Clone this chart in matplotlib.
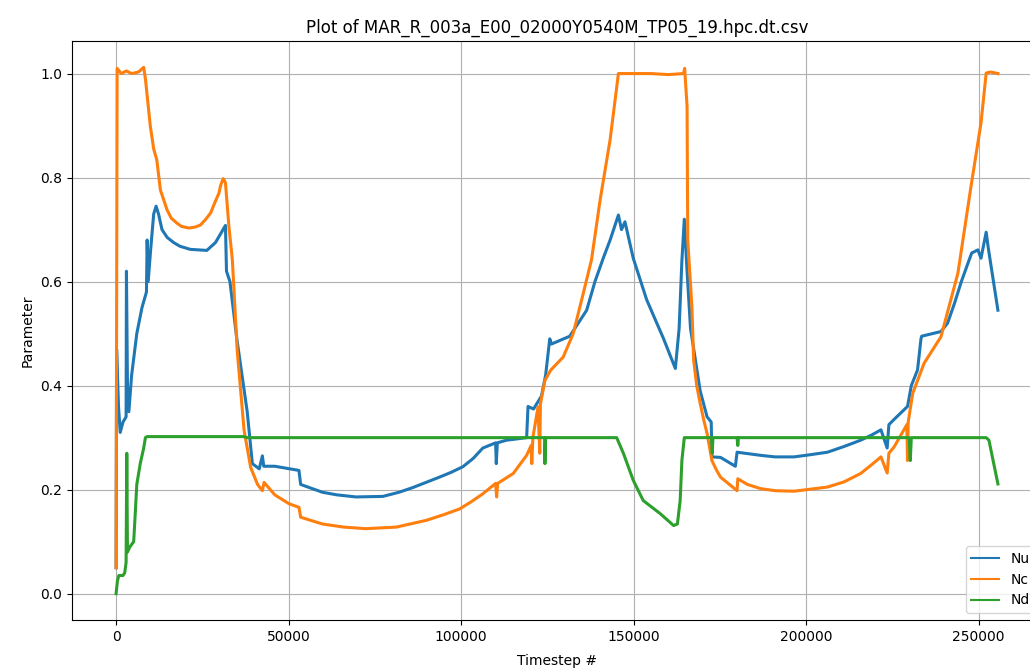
import matplotlib
matplotlib.use("Agg")
import matplotlib.pyplot as plt

TITLE = "Plot of MAR_R_003a_E00_02000Y0540M_TP05_19.hpc.dt.csv"

# Nu (blue)
nu_t = [0, 150, 700, 1200, 2000, 2900, 3000, 3300, 3700, 4500,
        6000, 7500, 8800, 9000, 9300, 10000, 10900, 11600, 12300, 13300,
        14800, 16700, 18500, 21500, 26300, 28800, 31700, 32000, 33000, 35000,
        38000, 39500, 41500, 42400, 42800, 46000, 53000, 53500, 59800, 64000,
        69500, 77300, 82000, 86000, 93700, 97000, 100500, 103500, 106300, 110000,
        110200, 110500, 113100, 119000, 119400, 121000, 123300, 124500, 125700, 126200,
        131500, 136400, 138800, 141200, 143200, 145600, 146500, 147500, 149900, 153800,
        158700, 162100, 163200, 164000, 164700, 165500, 166500, 169300, 171300, 172500,
        172700, 175200, 179500, 180000, 186800, 191000, 196500, 201000, 206200, 211000,
        215800, 219000, 221700, 223500, 224000, 225500, 229400, 230500, 232300, 233300,
        233500, 239100, 241000, 243000, 245000, 246900, 248000, 249800, 250700, 252200,
        252800, 255600]
nu_v = [0.05, 0.47, 0.36, 0.31, 0.33, 0.34, 0.62, 0.40, 0.35, 0.42,
        0.50, 0.55, 0.58, 0.68, 0.60, 0.66, 0.73, 0.745, 0.73, 0.70,
        0.685, 0.675, 0.668, 0.662, 0.66, 0.675, 0.708, 0.62, 0.60, 0.49,
        0.35, 0.25, 0.24, 0.265, 0.245, 0.245, 0.237, 0.21, 0.195, 0.19,
        0.186, 0.187, 0.195, 0.204, 0.224, 0.233, 0.244, 0.26, 0.28, 0.29,
        0.25, 0.29, 0.295, 0.30, 0.36, 0.355, 0.38, 0.42, 0.49, 0.48,
        0.495, 0.545, 0.60, 0.645, 0.68, 0.728, 0.70, 0.715, 0.645, 0.565,
        0.49, 0.433, 0.51, 0.64, 0.72, 0.62, 0.51, 0.39, 0.34, 0.33,
        0.263, 0.262, 0.245, 0.272, 0.266, 0.263, 0.263, 0.267, 0.272, 0.283,
        0.295, 0.305, 0.315, 0.28, 0.325, 0.335, 0.36, 0.40, 0.43, 0.49,
        0.495, 0.504, 0.52, 0.558, 0.60, 0.635, 0.655, 0.661, 0.645, 0.695,
        0.665, 0.545]

# Nc (orange)
nc_t = [0, 300, 1500, 3000, 4500, 6500, 8000, 8500, 9900, 10900,
        11800, 12850, 14770, 16000, 17700, 19000, 21100, 23000, 24500, 26000,
        27400, 28500, 29800, 30300, 31050, 31700, 32700, 33700, 35100, 37100,
        39000, 41000, 42400, 42900, 46000, 50100, 53000, 53500, 59800, 66000,
        72400, 81200, 89900, 95000, 99600, 103000, 106300, 110000, 110300, 110600,
        115100, 119000, 120300, 120500, 120800, 122300, 122800, 123000, 124300, 126000,
        129600, 132500, 135400, 137800, 140300, 143200, 145600, 150000, 155000, 160000,
        164500, 164800, 165500, 165700, 166900, 167400, 168300, 169300, 170300, 171300,
        172700, 174000, 175200, 180000, 180200, 183000, 186800, 191000, 196500, 206200,
        211000, 215800, 219000, 221700, 223500, 224000, 225500, 229200, 229400, 229600,
        230900, 234200, 239100, 244000, 247800, 250700, 252200, 253500, 255600]
nc_v = [0.05, 1.01, 1.0, 1.005, 1.0, 1.003, 1.012, 0.99, 0.90, 0.855,
        0.834, 0.776, 0.738, 0.722, 0.712, 0.706, 0.703, 0.705, 0.709, 0.72,
        0.732, 0.75, 0.77, 0.785, 0.798, 0.79, 0.706, 0.642, 0.468, 0.314,
        0.243, 0.21, 0.198, 0.214, 0.19, 0.173, 0.166, 0.147, 0.134, 0.128,
        0.125, 0.128, 0.141, 0.152, 0.163, 0.177, 0.192, 0.212, 0.186, 0.212,
        0.231, 0.266, 0.285, 0.25, 0.30, 0.359, 0.27, 0.365, 0.41, 0.43,
        0.455, 0.50, 0.577, 0.642, 0.757, 0.873, 1.0, 1.0, 1.0, 0.998,
        1.0, 1.01, 0.937, 0.68, 0.552, 0.449, 0.40, 0.366, 0.335, 0.308,
        0.256, 0.238, 0.224, 0.198, 0.221, 0.21, 0.202, 0.198, 0.197, 0.205,
        0.215, 0.231, 0.248, 0.263, 0.232, 0.27, 0.282, 0.325, 0.256, 0.33,
        0.385, 0.443, 0.494, 0.616, 0.783, 0.905, 1.001, 1.003, 1.0]

# Nd (green)
nd_t = [0, 400, 800, 2000, 2500, 2900, 3100, 3300, 4000, 5100,
        5600, 6000, 7000, 8000, 8500, 9000, 37000, 38000, 119500, 120000,
        124200, 124300, 124500, 145100, 147100, 149900, 152800, 157700, 161600, 162700,
        163500, 164000, 164700, 172600, 172800, 173000, 180000, 180200, 180400, 229900,
        230200, 230500, 252200, 253000, 255600]
nd_v = [0.0, 0.025, 0.035, 0.035, 0.04, 0.06, 0.27, 0.08, 0.09, 0.10,
        0.16, 0.21, 0.25, 0.28, 0.30, 0.302, 0.302, 0.30, 0.30, 0.30,
        0.30, 0.25, 0.30, 0.30, 0.269, 0.218, 0.179, 0.154, 0.131, 0.134,
        0.179, 0.256, 0.30, 0.30, 0.27, 0.30, 0.30, 0.285, 0.30, 0.30,
        0.256, 0.30, 0.30, 0.295, 0.211]

fig = plt.figure(figsize=(10.30, 6.71), dpi=100)
# the original was cropped on the right and bottom, so the axes run off the figure
ax = fig.add_axes([72 / 1030, 51 / 671, 970 / 1030, 579 / 671])

ax.plot(nu_t, nu_v, label="Nu", lw=2.2)
ax.plot(nc_t, nc_v, label="Nc", lw=2.2)
ax.plot(nd_t, nd_v, label="Nd", lw=2.2)

ax.set_title(TITLE)
ax.set_xlabel("Timestep #", labelpad=7.5)
ax.set_ylabel("Parameter")
ax.grid(True)
leg = ax.legend(loc="lower right")
for line in leg.get_lines():
    line.set_linewidth(1.5)

fig.savefig("out.png", dpi=100)
